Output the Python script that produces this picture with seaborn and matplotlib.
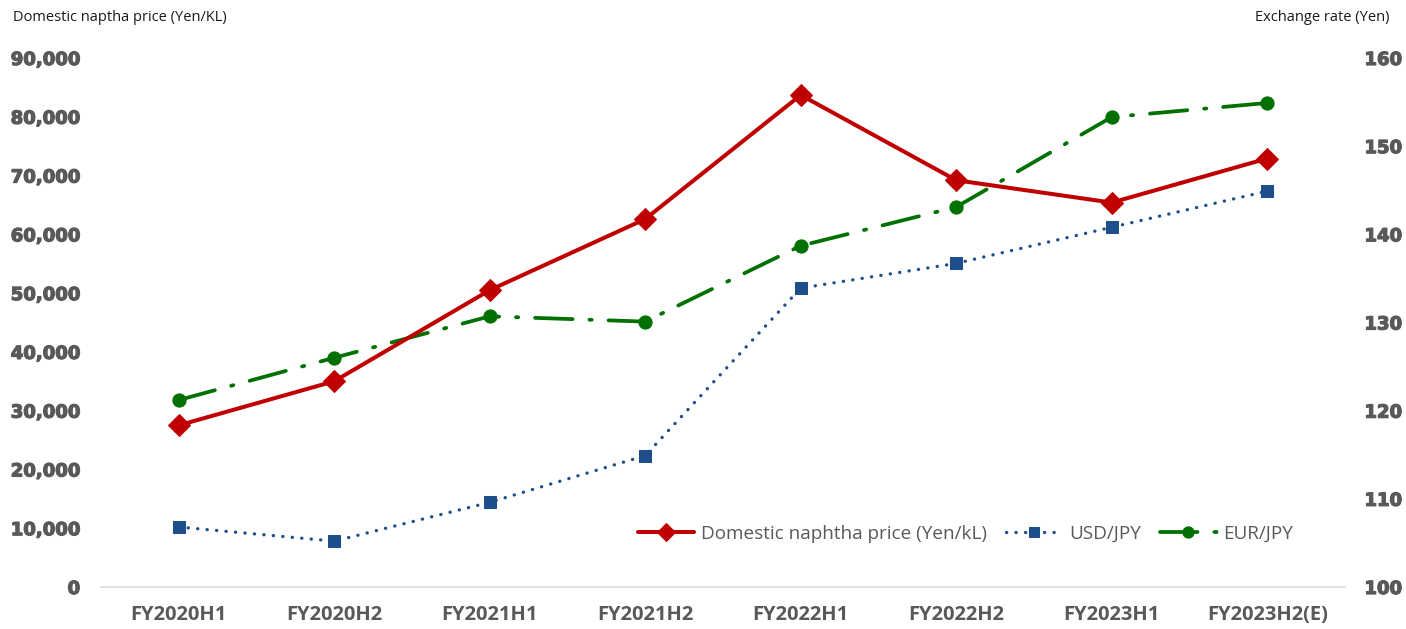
import matplotlib
matplotlib.use("Agg")
import matplotlib.pyplot as plt
import matplotlib.patheffects as pe
import seaborn as sns
import pandas as pd

periods = ["FY2020H1", "FY2020H2", "FY2021H1", "FY2021H2",
           "FY2022H1", "FY2022H2", "FY2023H1", "FY2023H2(E)"]
naphtha = [27500, 35000, 50500, 62600, 83700, 69200, 65400, 72900]
usd_jpy = [106.8, 105.2, 109.6, 114.9, 133.9, 136.7, 140.8, 144.9]
eur_jpy = [121.2, 126.0, 130.7, 130.1, 138.7, 143.1, 153.3, 154.9]

left_ticks = [0, 10000, 20000, 30000, 40000, 50000, 60000, 70000, 80000, 90000]
right_ticks = [100, 110, 120, 130, 140, 150, 160]

RED = "#C00000"
BLUE = "#1F4E8C"
GREEN = "#007000"
GREY = "#595959"

sns.set_theme(style="white")
plt.rcParams["font.family"] = ["DejaVu Sans"]

df = pd.DataFrame({"period": periods, "naphtha": naphtha,
                   "usd": usd_jpy, "eur": eur_jpy})

fig = plt.figure(figsize=(14.06, 6.29), dpi=100)
ax = fig.add_axes([0.0718, 0.0668, 0.8848, 0.8410])
ax2 = ax.twinx()

sns.lineplot(data=df, x="period", y="usd", ax=ax2, sort=False, color=BLUE,
             lw=2.4, marker="s", markersize=9, markeredgecolor=BLUE,
             linestyle=(0, (0.05, 2.8)), dash_capstyle="round",
             label="USD/JPY", zorder=2)
sns.lineplot(data=df, x="period", y="eur", ax=ax2, sort=False, color=GREEN,
             lw=2.7, marker="o", markersize=9.5, markeredgecolor=GREEN,
             linestyle=(0, (10, 4.5, 0.6, 4.5)), dash_capstyle="round",
             label="EUR/JPY", zorder=2)
sns.lineplot(data=df, x="period", y="naphtha", ax=ax,
             sort=False, color=RED, lw=2.9, marker="D", markersize=11,
             markeredgecolor=RED, label="Domestic naphtha price (Yen/kL)")

# keep the naphtha line drawn above the exchange-rate lines
ax.set_zorder(ax2.get_zorder() + 1)
ax.patch.set_visible(False)

ax.set_xlim(-0.5, len(periods) - 0.5)
ax.set_ylim(0, 90000)
ax2.set_ylim(100, 160)
ax.set_yticks(left_ticks)
ax.set_yticklabels([f"{v:,}" for v in left_ticks])
ax2.set_yticks(right_ticks)
ax2.set_yticklabels([str(v) for v in right_ticks])

for a in (ax, ax2):
    a.set_xlabel("")
    a.set_ylabel("")
    a.grid(False)
    for side in ("top", "left", "right", "bottom"):
        a.spines[side].set_visible(False)
    a.tick_params(length=0)

ax.spines["bottom"].set_visible(True)
ax.spines["bottom"].set_color("#D9D9D9")
ax.spines["bottom"].set_linewidth(1.2)

heavy = [pe.withStroke(linewidth=0.9, foreground=GREY)]
for lbl in ax.get_yticklabels() + ax2.get_yticklabels():
    lbl.set_fontsize(13)
    lbl.set_fontweight("heavy")
    lbl.set_color(GREY)
    lbl.set_path_effects(heavy)
ax.tick_params(axis="y", pad=15)
ax2.tick_params(axis="y", pad=14)

ax.set_xticks(range(len(periods)))
ax.set_xticklabels(periods, fontsize=14.5, fontweight="bold", color=GREY,
                   family=["Open Sans", "DejaVu Sans"])
ax.tick_params(axis="x", pad=13)

h1, l1 = ax.get_legend_handles_labels()
h2, l2 = ax2.get_legend_handles_labels()
for a in (ax, ax2):
    if a.get_legend():
        a.get_legend().remove()
leg = ax.legend(h1 + h2, l1 + l2, loc="lower right", bbox_to_anchor=(0.972, 0.051),
                ncol=3, frameon=False, handlelength=3.0, columnspacing=1.0,
                handletextpad=0.35, markerscale=0.85,
                prop={"family": ["Open Sans", "DejaVu Sans"], "size": 13.6})
for t in leg.get_texts():
    t.set_color(GREY)

fig.text(0.009, 0.972, "Domestic naptha price (Yen/KL)", fontsize=10.5,
         color="#1A1A1A", family=["Open Sans", "DejaVu Sans"], va="center")
fig.text(0.988, 0.972, "Exchange rate (Yen)", fontsize=10.5, ha="right",
         color="#1A1A1A", family=["Open Sans", "DejaVu Sans"], va="center")

fig.savefig("out.png", dpi=100)
